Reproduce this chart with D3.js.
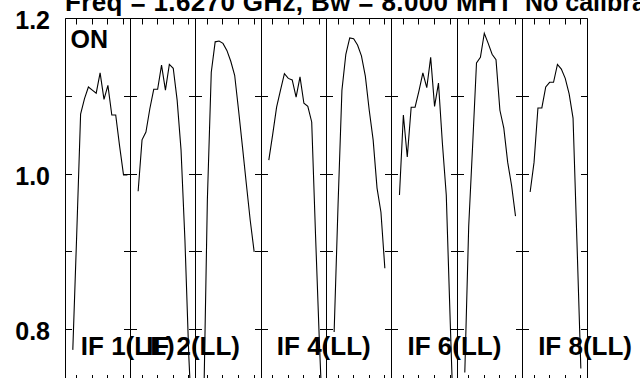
<!DOCTYPE html>
<html><head><meta charset="utf-8">
<script src="https://cdn.jsdelivr.net/npm/d3@7"></script>
<style>body{margin:0;background:#fff;overflow:hidden}svg{display:block}</style>
</head><body><svg id="c" width="640" height="378"></svg>
<script>
// ---- data ----
const panels = ["IF 1","IF 2","IF 3","IF 4","IF 5","IF 6","IF 7","IF 8"];
const panelLabels = ["IF 1(LL)","IF 2(LL)","","IF 4(LL)","","IF 6(LL)","","IF 8(LL)"];
const firstChannel = 2;
const if1 = [0.774,0.922,1.077,1.097,1.112,1.108,1.104,1.130,1.096,1.114,1.076,1.076,1.036,0.999,0.999];
const if2 = [0.978,1.044,1.054,1.084,1.109,1.109,1.140,1.108,1.141,1.136,1.095,1.031,0.915,0.765,0.658];
const if3 = [0.684,0.967,1.131,1.170,1.171,1.168,1.159,1.145,1.127,1.082,1.035,0.987,0.940,0.900];
const if4 = [1.018,1.051,1.086,1.108,1.129,1.123,1.121,1.099,1.125,1.091,1.087,1.067,0.919,0.780,0.658];
const if5 = [0.797,0.960,1.108,1.154,1.175,1.174,1.166,1.152,1.126,1.082,1.044,0.982,0.951,0.879];
const if6 = [0.973,1.076,1.022,1.086,1.086,1.107,1.130,1.111,1.150,1.087,1.117,1.040,0.973,0.812,0.658];
const if7 = [0.745,0.933,1.036,1.143,1.150,1.181,1.168,1.154,1.147,1.082,1.059,1.015,0.985,0.946];
const if8 = [0.977,1.015,1.085,1.085,1.112,1.118,1.118,1.141,1.135,1.123,1.103,1.072,0.913,0.750];
const series = [if1,if2,if3,if4,if5,if6,if7,if8];
const yMajorTicks = [0.8,0.9,1.0,1.1,1.2];
const yLabelTicks = [0.8,1.0,1.2];
const yTickLabels = ["0.8","1.0","1.2"];
const xMinorTicks = [3,7,11,15];
const titleText = "Freq = 1.6270 GHz, Bw = 8.000 MHT";
const titleText2 = "No calibration";
const cornerLabel = "ON";

// ---- layout ----
const pLeft = 65, pRight = 587.67, pTop = 18.5, pBottom = 381;
const font = "'Liberation Sans', Arial, Helvetica, sans-serif";
const svg = d3.select("#c");

const px = d3.scaleBand().domain(panels).range([pLeft, pRight]).padding(0);
const y = d3.scaleLinear().domain([0.734, 1.2]).range([pBottom, pTop]);
const crisp = v => Math.floor(v) + 0.5;

svg.append("defs").append("clipPath").attr("id","plotclip")
  .append("rect").attr("x", pLeft).attr("y", pTop).attr("width", pRight-pLeft).attr("height", pBottom-pTop);

panels.forEach((p, i) => {
  const x0 = px(p), x1 = x0 + px.bandwidth();
  const xs = d3.scaleLinear().domain([0, 16.75]).range([x0, x1]);
  const g = svg.append("g");
  const line = d3.line().x((d, j) => xs(firstChannel + j)).y(d => y(d));
  g.append("path").datum(series[i]).attr("d", line)
    .attr("fill","none").attr("stroke","#000").attr("stroke-width",1.1)
    .attr("clip-path","url(#plotclip)");
  const bx0 = crisp(x0), bx1 = crisp(x1);
  g.append("path").attr("d", `M${bx0},${pTop}V${pBottom}M${bx1},${pTop}V${pBottom}M${bx0},${crisp(pTop)}H${bx1}`)
    .attr("stroke","#000").attr("stroke-width",1).attr("fill","none");
  yMajorTicks.forEach(v => {
    const yy = crisp(y(v));
    g.append("path").attr("d", `M${bx0},${yy}h6.5M${bx1},${yy}h-6.5`)
      .attr("stroke","#000").attr("stroke-width",1);
  });
  xMinorTicks.forEach(c => {
    const xx = crisp(xs(c));
    g.append("path").attr("d", `M${xx},${pTop}v6M${xx},${pBottom}v-6`)
      .attr("stroke","#000").attr("stroke-width",1);
  });
  if (panelLabels[i]) {
    g.append("text").attr("x", x0 + 15.8).attr("y", 355)
      .attr("font-family", font).attr("font-weight","bold").attr("font-size", 26)
      .attr("fill","#000").text(panelLabels[i]);
  }
});

yLabelTicks.forEach((v, k) => {
  svg.append("text").attr("x", 50).attr("y", y(v) + 10.5)
    .attr("text-anchor","end").attr("font-family", font).attr("font-weight","bold")
    .attr("font-size", 25).attr("fill","#000").text(yTickLabels[k]);
});

svg.append("text").attr("x", 70.5).attr("y", 48)
  .attr("font-family", font).attr("font-weight","bold").attr("font-size", 25)
  .attr("fill","#000").text(cornerLabel);

svg.append("text").attr("x", 65).attr("y", 11)
  .attr("font-family", font).attr("font-weight","bold").attr("font-size", 26)
  .attr("textLength", 448).attr("lengthAdjust","spacing")
  .attr("fill","#000").text(titleText);
svg.append("text").attr("x", 525).attr("y", 11)
  .attr("font-family", font).attr("font-weight","bold").attr("font-size", 25)
  .attr("fill","#000").text(titleText2);
</script></body></html>
